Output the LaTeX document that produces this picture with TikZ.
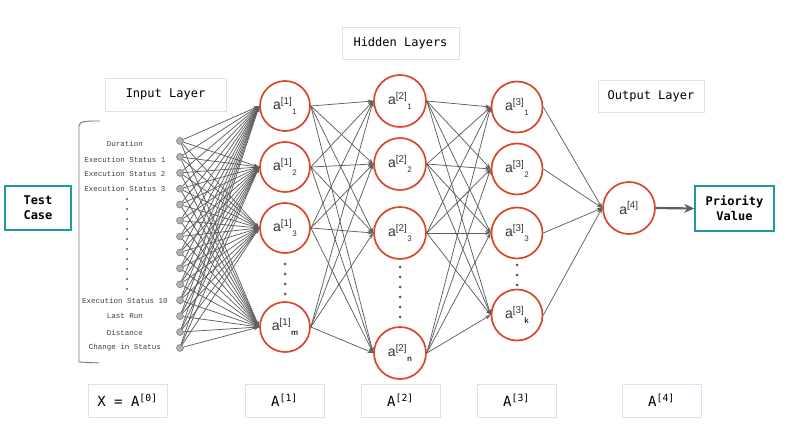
\documentclass[tikz,border=0pt]{standalone}
\usepackage{fontspec}
\setmainfont{Liberation Sans}
\newfontfamily\boxmono{DejaVu Sans Mono}
\newfontfamily\featmono{Liberation Mono}
\usetikzlibrary{arrows.meta}
\definecolor{neuronred}{HTML}{D8472A}
\definecolor{tealbox}{HTML}{2198A6}
\definecolor{paleblue}{HTML}{D3E4F5}
\definecolor{edgegray}{HTML}{5F5F5F}
\newcommand{\neulab}[2]{a\textsuperscript{[#1]}\raisebox{-4.5pt}{\fontsize{8}{9}\selectfont #2}}
\tikzset{
  neuron/.style={circle, draw=neuronred, line width=1.7pt, minimum size=50pt, inner sep=0pt, text=black!80, font=\fontsize{14}{15}\selectfont},
  inp/.style={circle, fill=gray!60, draw=gray!90!black, line width=0.5pt, minimum size=7pt, inner sep=0pt},
  conn/.style={draw=edgegray, line width=0.75pt, -{Stealth[length=5.5pt,width=4pt]}},
  lbox/.style={draw=paleblue, line width=0.9pt, inner sep=0pt, font=\boxmono\fontsize{12}{14}\selectfont},
  bbox/.style={draw=paleblue, line width=0.9pt, inner sep=0pt, minimum width=79pt, minimum height=33pt, font=\boxmono\fontsize{14}{16}\selectfont},
  tbox/.style={draw=tealbox, line width=1.6pt, inner sep=0pt, align=center, font=\boxmono\bfseries\fontsize{12}{15}\selectfont},
  feat/.style={font=\featmono\fontsize{7.5}{8}\selectfont, text=black!75, inner sep=0pt},
  dotmark/.style={fill=gray!70!black},
}
\begin{document}
\begin{tikzpicture}[x=1pt,y=-1pt]
\useasboundingbox (0,0) rectangle (789,444);
% label boxes
\node[lbox, minimum width=121pt, minimum height=33pt] (inlab) at (165.5,94.5) {Input Layer};
\node[lbox, minimum width=117pt, minimum height=32pt] (hidlab) at (400.5,43) {Hidden Layers};
\node[lbox, minimum width=106pt, minimum height=32pt] (outlab) at (651,96) {Output Layer};
% test case & priority
\node[tbox, minimum width=66pt, minimum height=44pt] (tc) at (38,208) {Test\\Case};
\node[tbox, minimum width=79pt, minimum height=45pt] (pv) at (734.5,208.5) {Priority\\Value};
% bracket
\draw[gray!90!black, line width=0.9pt] (100,121) .. controls (86,121) and (79,121) .. (79,126) -- (79,362) -- (99,363);
% input nodes
\foreach \i in {0,...,13} {
  \node[inp] (in\i) at (180,{141+15.92*\i}) {};
}
% feature labels
\node[feat] (f0) at (125,144) {Duration};
\node[feat] (f1) at (125,160) {Execution Status 1};
\node[feat] (f2) at (125,174) {Execution Status 2};
\node[feat] (f3) at (125,189) {Execution Status 3};
\node[feat] (f10) at (125,301) {Execution Status 10};
\node[feat] (f11) at (125,316) {Last Run};
\node[feat] (f12) at (125,333) {Distance};
\node[feat] (f13) at (125,348) {Change in Status};
\foreach \k in {0,...,9} {
  \fill[dotmark] (127,{199+10*\k}) circle (1.2pt);
}
% layer 1
\node[neuron] (l1a) at (285,106) {\neulab{1}{1}};
\node[neuron] (l1b) at (285,167) {\neulab{1}{2}};
\node[neuron] (l1c) at (285,228) {\neulab{1}{3}};
\node[neuron] (l1d) at (285,327) {\neulab{1}{\textbf{m}}};
\foreach \k in {0,...,3} { \fill[dotmark] (285,{264+10*\k}) circle (1.5pt); }
% layer 2
\node[neuron, minimum size=52pt] (l2a) at (400,101) {\neulab{2}{1}};
\node[neuron, minimum size=52pt] (l2b) at (400,164) {\neulab{2}{2}};
\node[neuron, minimum size=52pt] (l2c) at (400,233) {\neulab{2}{3}};
\node[neuron, minimum size=52pt] (l2d) at (400,353) {\neulab{2}{\textbf{n}}};
\foreach \k in {0,...,5} { \fill[dotmark] (400,{267+10*\k}) circle (1.5pt); }
% layer 3
\node[neuron, minimum size=51pt] (l3a) at (517,107) {\neulab{3}{1}};
\node[neuron, minimum size=51pt] (l3b) at (517,169) {\neulab{3}{2}};
\node[neuron, minimum size=51pt] (l3c) at (517,233) {\neulab{3}{3}};
\node[neuron, minimum size=51pt] (l3d) at (517,315) {\neulab{3}{\textbf{k}}};
\foreach \k in {0,...,2} { \fill[dotmark] (517,{265+10*\k}) circle (1.5pt); }
% output
\node[neuron, minimum size=52pt] (l4) at (629,208) {a\textsuperscript{[4]}};
% connections
\foreach \i in {0,...,13} {
  \foreach \t in {l1a,l1b,l1c,l1d} {
    \draw[conn] (in\i) -- (\t.west);
  }
}
\foreach \s in {l1a,l1b,l1c,l1d} {
  \foreach \t in {l2a,l2b,l2c,l2d} {
    \draw[conn] (\s.east) -- (\t.west);
  }
}
\foreach \s in {l2a,l2b,l2c,l2d} {
  \foreach \t in {l3a,l3b,l3c,l3d} {
    \draw[conn] (\s.east) -- (\t.west);
  }
}
\foreach \s in {l3a,l3b,l3c,l3d} {
  \draw[conn] (\s.east) -- (l4.west);
}
\draw[draw=edgegray, line width=2.2pt, -{Stealth[length=10pt,width=9pt]}] (l4.east) -- (pv.west);
% bottom labels
\node[bbox] (b0) at (127.5,400.5) {X = A\textsuperscript{[0]}};
\node[bbox] (b1) at (284.5,400.5) {A\textsuperscript{[1]}};
\node[bbox] (b2) at (400.5,400.5) {A\textsuperscript{[2]}};
\node[bbox] (b3) at (516.5,400.5) {A\textsuperscript{[3]}};
\node[bbox] (b4) at (661.5,400.5) {A\textsuperscript{[4]}};
\end{tikzpicture}
\end{document}
